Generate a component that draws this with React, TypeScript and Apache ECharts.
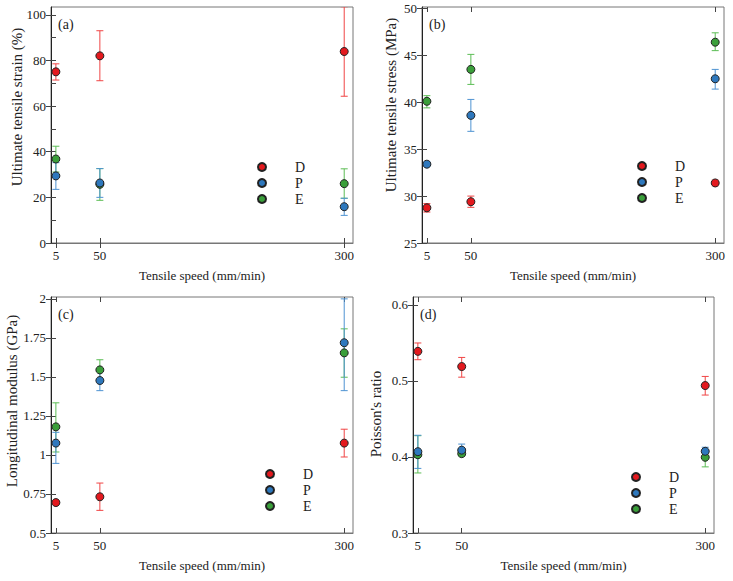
import React, { useEffect, useRef } from 'react';
import * as echarts from 'echarts';

// Tensile speeds (mm/min)
const speeds = [5, 50, 300];
const groupNames = ['D', 'P', 'E'];
const xTickValues = [5, 50, 300];

// Each row: [mean, low, high] for speeds 5, 50, 300
// (a) Ultimate tensile strain (%)
const strainD = [[75.0, 71.4, 78.5], [82.0, 71.1, 93.0], [83.9, 64.3, 103.5]];
const strainP = [[29.4, 23.5, 35.2], [26.3, 20.0, 32.6], [15.9, 12.1, 19.6]];
const strainE = [[36.8, 31.1, 42.4], [25.7, 18.7, 32.6], [26.0, 19.6, 32.5]];
// (b) Ultimate tensile stress (MPa)
const stressD = [[28.75, 28.3, 29.2], [29.4, 28.8, 30.0], [31.4, 31.1, 31.7]];
const stressP = [[33.4, 33.15, 33.65], [38.6, 36.9, 40.3], [42.5, 41.4, 43.5]];
const stressE = [[40.1, 39.4, 40.7], [43.5, 41.9, 45.1], [46.4, 45.5, 47.4]];
// (c) Longitudinal modulus (GPa)
const modulusD = [[0.695, 0.685, 0.705], [0.732, 0.645, 0.82], [1.076, 0.987, 1.165]];
const modulusP = [[1.076, 0.946, 1.145], [1.477, 1.412, 1.535], [1.719, 1.412, 2.0]];
const modulusE = [[1.18, 1.019, 1.334], [1.545, 1.48, 1.61], [1.654, 1.498, 1.808]];
// (d) Poisson's ratio
const poissonD = [[0.539, 0.528, 0.55], [0.519, 0.505, 0.531], [0.494, 0.4815, 0.506]];
const poissonP = [[0.407, 0.385, 0.4286], [0.409, 0.402, 0.417], [0.4075, 0.402, 0.4128]];
const poissonE = [[0.403, 0.379, 0.428], [0.4044, 0.4014, 0.4074], [0.3996, 0.387, 0.405]];

// Axis tick labels
const strainTicks = [0, 20, 40, 60, 80, 100];
const strainMinorTicks = [0, 10, 20, 30, 40, 50, 60, 70, 80, 90, 100];
const stressTicks = [25, 30, 35, 40, 45, 50];
const modulusTicks = [0.5, 0.75, 1, 1.25, 1.5, 1.75, 2];
const poissonTicks = [0.3, 0.4, 0.5, 0.6];

const FONT = 'Liberation Serif';
const markerColors: Record<string, string> = { D: '#e3191e', P: '#2e78bd', E: '#3a9f3a' };
const errColors: Record<string, string> = { D: '#f04545', P: '#4f93d2', E: '#5cbd55' };

const panels = [
  {
    label: '(a)', title: 'Ultimate tensile strain (%)',
    grid: { left: 51, top: 7, width: 302, height: 236 },
    yMin: 0, yMax: 103.4, ticks: strainTicks, tickMarks: strainMinorTicks,
    data: { D: strainD, P: strainP, E: strainE },
    yTitle: { x: 17, y: 107 }, legend: { left: 257, top: 160 },
  },
  {
    label: '(b)', title: 'Ultimate tensile stress (MPa)',
    grid: { left: 422, top: 7, width: 302, height: 236 },
    yMin: 25, yMax: 50.15, ticks: stressTicks, tickMarks: stressTicks,
    data: { D: stressD, P: stressP, E: stressE },
    yTitle: { x: 391, y: 105 }, legend: { left: 637, top: 159 },
  },
  {
    label: '(c)', title: 'Longitudinal modulus (GPa)',
    grid: { left: 51, top: 297, width: 302, height: 236 },
    yMin: 0.5, yMax: 2.012, ticks: modulusTicks, tickMarks: modulusTicks,
    data: { D: modulusD, P: modulusP, E: modulusE },
    yTitle: { x: 12, y: 401 }, legend: { left: 265, top: 467 },
  },
  {
    label: '(d)', title: "Poisson's ratio",
    grid: { left: 413, top: 297, width: 301, height: 236 },
    yMin: 0.3, yMax: 0.6105, ticks: poissonTicks, tickMarks: poissonTicks,
    data: { D: poissonD, P: poissonP, E: poissonE },
    yTitle: { x: 376, y: 414 }, legend: { left: 631, top: 470 },
  },
];

function errRender(color: string) {
  return (params: any, api: any) => {
    const x = api.value(0);
    const lo = api.coord([x, api.value(1)]);
    const hi = api.coord([x, api.value(2)]);
    const w = 3.5;
    const style = { stroke: color, lineWidth: 1, fill: null };
    return {
      type: 'group',
      children: [
        { type: 'line', shape: { x1: lo[0], y1: lo[1], x2: hi[0], y2: hi[1] }, style },
        { type: 'line', shape: { x1: lo[0] - w, y1: lo[1], x2: lo[0] + w, y2: lo[1] }, style },
        { type: 'line', shape: { x1: hi[0] - w, y1: hi[1], x2: hi[0] + w, y2: hi[1] }, style },
      ],
    };
  };
}

function buildOption() {
  const grid: any[] = [];
  const xAxis: any[] = [];
  const yAxis: any[] = [];
  const series: any[] = [];
  const legend: any[] = [];
  const graphic: any[] = [];

  panels.forEach((p, i) => {
    grid.push({
      ...p.grid, show: true, borderColor: '#777', borderWidth: 1,
      backgroundColor: 'transparent', containLabel: false, outerBoundsMode: 'none',
    });
    const tickStyle = { show: true, inside: true, length: 5, lineStyle: { color: '#444', width: 1 } };
    xAxis.push({
      type: 'value', gridIndex: i, position: 'bottom', min: 0, max: 309,
      name: 'Tensile speed (mm/min)', nameLocation: 'middle', nameGap: 26,
      nameTextStyle: { fontFamily: FONT, fontSize: 13, color: '#222' },
      axisLine: { show: true, onZero: false, lineStyle: { color: '#777', width: 1 } },
      axisTick: { ...tickStyle, customValues: xTickValues },
      axisLabel: { show: true, customValues: xTickValues, margin: 6, fontFamily: FONT, fontSize: 13, color: '#222' },
      splitLine: { show: false },
    });
    xAxis.push({
      type: 'value', gridIndex: i, position: 'top', min: 0, max: 309,
      axisLine: { show: false },
      axisTick: { ...tickStyle, customValues: xTickValues },
      axisLabel: { show: false },
      splitLine: { show: false },
    });
    yAxis.push({
      type: 'value', gridIndex: i, position: 'left', min: p.yMin, max: p.yMax,
      axisLine: { show: true, onZero: false, lineStyle: { color: '#222', width: 1 } },
      axisTick: { ...tickStyle, customValues: p.tickMarks },
      axisLabel: { show: true, customValues: p.ticks, margin: 5, fontFamily: FONT, fontSize: 13, color: '#222' },
      splitLine: { show: false },
    });
    yAxis.push({
      type: 'value', gridIndex: i, position: 'right', min: p.yMin, max: p.yMax,
      axisLine: { show: false },
      axisTick: { ...tickStyle, customValues: p.ticks },
      axisLabel: { show: false },
      splitLine: { show: false },
    });

    const drawOrder = ['D', 'E', 'P'];
    drawOrder.forEach((g) => {
      const rows = (p.data as any)[g] as number[][];
      series.push({
        type: 'custom', name: g + ' error', xAxisIndex: 2 * i, yAxisIndex: 2 * i,
        renderItem: errRender(errColors[g]), clip: true, z: 1,
        encode: { x: 0, y: [1, 2] },
        data: rows.map((r, k) => [speeds[k], r[1], r[2]]),
        silent: true,
      });
    });
    drawOrder.forEach((g) => {
      const rows = (p.data as any)[g] as number[][];
      series.push({
        type: 'scatter', name: g, xAxisIndex: 2 * i, yAxisIndex: 2 * i,
        symbol: 'circle', symbolSize: 8, z: 3,
        itemStyle: { color: markerColors[g], borderColor: '#222', borderWidth: 1, opacity: 1 },
        data: rows.map((r, k) => [speeds[k], r[0]]),
      });
    });

    legend.push({
      data: groupNames, orient: 'vertical', left: p.legend.left, top: p.legend.top,
      padding: 0, itemWidth: 8, itemHeight: 8, itemGap: 2, selectedMode: false,
      textStyle: { fontFamily: FONT, fontSize: 14, color: '#222', lineHeight: 14, padding: [0, 0, 0, 24] },
    });

    graphic.push({
      type: 'text', x: p.grid.left + 7, y: p.grid.top + 17,
      style: { text: p.label, fontFamily: FONT, fontSize: 14, fill: '#222', align: 'left', verticalAlign: 'middle' },
    });
    graphic.push({
      type: 'text', x: p.yTitle.x, y: p.yTitle.y, rotation: Math.PI / 2,
      style: { text: p.title, fontFamily: FONT, fontSize: 15, fill: '#222', align: 'center', verticalAlign: 'middle' },
    });
  });

  return {
    animation: false,
    backgroundColor: '#fff',
    grid, xAxis, yAxis, series, legend, graphic,
  };
}

export default function App() {
  const ref = useRef<HTMLDivElement>(null);
  useEffect(() => {
    if (!ref.current) return;
    const chart = echarts.init(ref.current, undefined, { renderer: 'svg' });
    chart.setOption(buildOption() as any);
    return () => chart.dispose();
  }, []);
  return (
    <div
      ref={ref}
      style={{ position: 'absolute', left: 0, top: 0, width: 733, height: 581 }}
    />
  );
}
